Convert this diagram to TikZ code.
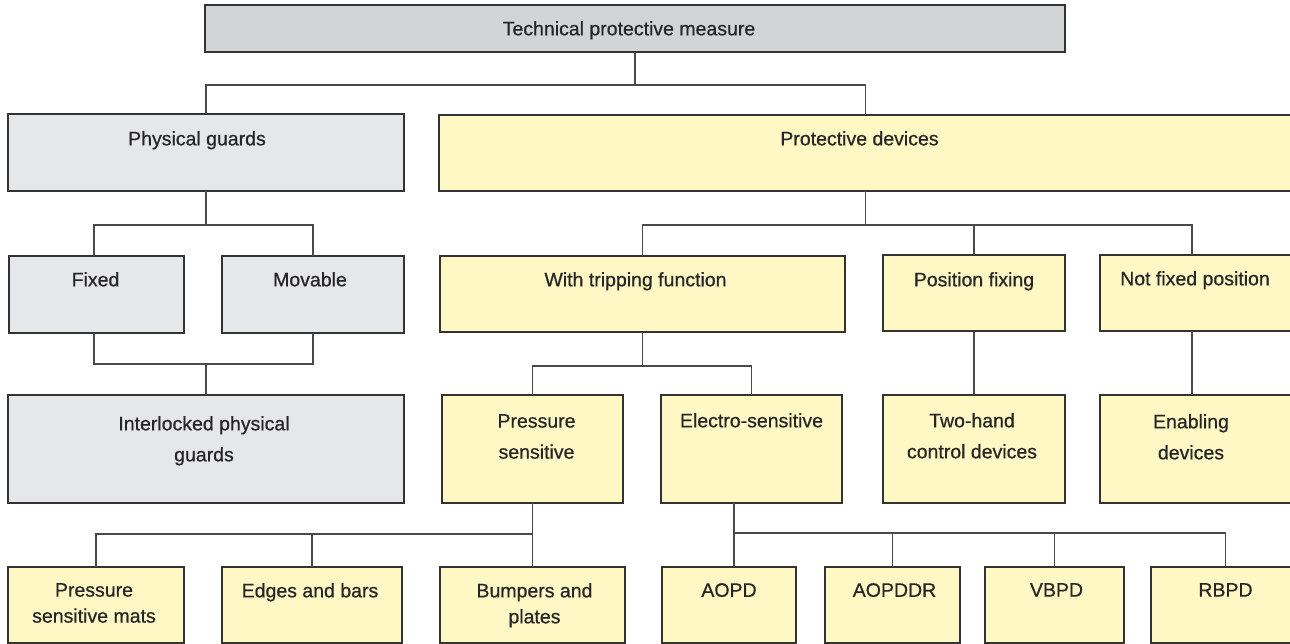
\documentclass[tikz,border=0pt]{standalone}
\usepackage{fontspec}
\setmainfont{Liberation Sans}
\newfontfamily\medf{Liberation Sans}[FakeBold=0.6]
\definecolor{bordc}{HTML}{333333}
\definecolor{linec}{HTML}{4A4A4A}
\definecolor{gdark}{HTML}{D3D4D6}
\definecolor{glight}{HTML}{E6E7E8}
\definecolor{ylw}{HTML}{FFF8C4}
\definecolor{txtc}{HTML}{262626}
\begin{document}
\begin{tikzpicture}[x=1pt,y=-1pt,
  box/.style={draw=bordc, line width=2.2pt, inner sep=0pt, outer sep=0pt, anchor=north west},
  gbox/.style={box, fill=glight},
  dbox/.style={box, fill=gdark},
  ybox/.style={box, fill=ylw},
  lbl/.style={anchor=north, inner sep=0pt, align=center, text=txtc, font=\medf\fontsize{19.5}{31}\selectfont},
  lblb/.style={lbl, font=\medf\fontsize{19.5}{26}\selectfont},
  conn/.style={draw=linec, line width=1.3pt}]
\useasboundingbox (0,0) rectangle (1290,644);
\clip (0,0) rectangle (1290,644);
% boxes
\node[dbox, minimum width=860pt, minimum height=47pt,
  label={[lbl,yshift=-16pt,xshift=-6pt]north:Technical protective measure}] (top) at (205,5) {};
\node[gbox, minimum width=396pt, minimum height=77pt,
  label={[lbl,yshift=-17pt,xshift=-9pt]north:Physical guards}] (phys) at (8,114) {};
\node[ybox, minimum width=853pt, minimum height=76pt,
  label={[lbl,yshift=-16pt,xshift=-6pt]north:Protective devices}] (prot) at (439,115) {};
\node[gbox, minimum width=175pt, minimum height=77pt,
  label={[lbl,yshift=-16pt,xshift=-1pt]north:Fixed}] (fixed) at (9,256) {};
\node[gbox, minimum width=182pt, minimum height=77pt,
  label={[lbl,yshift=-16pt,xshift=-3pt]north:Movable}] (movable) at (222,256) {};
\node[ybox, minimum width=405pt, minimum height=76pt,
  label={[lbl,yshift=-16pt,xshift=-7pt]north:With tripping function}] (trip) at (440,256) {};
\node[ybox, minimum width=182pt, minimum height=76pt,
  label={[lbl,yshift=-17pt]north:Position fixing}] (posfix) at (883,255) {};
\node[ybox, minimum width=192pt, minimum height=76pt,
  label={[lbl,yshift=-16pt,xshift=-1pt]north:Not fixed position}] (notfix) at (1100,255) {};
\node[gbox, minimum width=396pt, minimum height=108pt,
  label={[lbl,yshift=-21pt,xshift=-2pt]north:Interlocked physical\\guards}] (interl) at (8,395) {};
\node[ybox, minimum width=181pt, minimum height=108pt,
  label={[lbl,yshift=-19pt,xshift=4pt]north:Pressure\\sensitive}] (press) at (442,395) {};
\node[ybox, minimum width=181pt, minimum height=108pt,
  label={[lbl,yshift=-18pt]north:Electro-sensitive}] (electro) at (661,395) {};
\node[ybox, minimum width=182pt, minimum height=108pt,
  label={[lbl,yshift=-18pt,xshift=-2pt]north:Two-hand\\control devices}] (twohand) at (883,395) {};
\node[ybox, minimum width=192pt, minimum height=108pt,
  label={[lbl,yshift=-19pt,xshift=-5pt]north:Enabling\\devices}] (enabling) at (1100,395) {};
\node[ybox, minimum width=176pt, minimum height=76pt,
  label={[lblb,yshift=-16pt,xshift=-2pt]north:Pressure\\sensitive mats}] (mats) at (8,567) {};
\node[ybox, minimum width=180pt, minimum height=76pt,
  label={[lblb,yshift=-16pt,xshift=-2pt]north:Edges and bars}] (edges) at (222,567) {};
\node[ybox, minimum width=185pt, minimum height=76pt,
  label={[lblb,yshift=-16pt,xshift=2pt]north:Bumpers and\\plates}] (bumpers) at (440,567) {};
\node[ybox, minimum width=134pt, minimum height=76pt,
  label={[lblb,yshift=-16pt]north:AOPD}] (aopd) at (662,567) {};
\node[ybox, minimum width=135pt, minimum height=76pt,
  label={[lblb,yshift=-16pt,xshift=2pt]north:AOPDDR}] (aopddr) at (825,567) {};
\node[ybox, minimum width=139pt, minimum height=76pt,
  label={[lblb,yshift=-16pt,xshift=2pt]north:VBPD}] (vbpd) at (985,567) {};
\node[ybox, minimum width=149pt, minimum height=76pt,
  label={[lblb,yshift=-16pt]north:RBPD}] (rbpd) at (1151,567) {};
% helper coordinates
\coordinate (h1) at (0,85);
\coordinate (h2) at (0,225);
\coordinate (h3) at (0,364);
\coordinate (h4) at (0,366);
\coordinate (h5) at (0,534);
\coordinate (h6) at (0,533);
\coordinate (fx) at (94,0);
\coordinate (nf) at (1192,0);
\coordinate (ex) at (734,0);
% connectors
\draw[conn] (top.south) -- (top.south |- h1);
\draw[conn] (phys.north) -- (phys.north |- h1) -- (prot.north |- h1) -- (prot.north);
\draw[conn] (phys.south) -- (phys.south |- h2);
\draw[conn] (fixed.north -| fx) -- (fx |- h2) -- (movable.north |- h2) -- (movable.north);
\draw[conn] (prot.south) -- (prot.south |- h2);
\draw[conn] (trip.north) -- (trip.north |- h2) -- (nf |- h2) -- (notfix.north -| nf);
\draw[conn] (posfix.north) -- (posfix.north |- h2);
\draw[conn] (fixed.south -| fx) -- (fx |- h3) -- (movable.south |- h3) -- (movable.south);
\draw[conn] (interl.north) -- (interl.north |- h3);
\draw[conn] (trip.south) -- (trip.south |- h4);
\draw[conn] (press.north) -- (press.north |- h4) -- (electro.north |- h4) -- (electro.north);
\draw[conn] (posfix.south) -- (twohand.north);
\draw[conn] (notfix.south -| nf) -- (enabling.north -| nf);
\draw[conn] (press.south) -- (bumpers.north);
\draw[conn] (mats.north) -- (mats.north |- h5) -- (press.south |- h5);
\draw[conn] (edges.north) -- (edges.north |- h5);
\draw[conn] (electro.south -| ex) -- (aopd.north -| ex);
\draw[conn] (ex |- h6) -- (rbpd.north |- h6) -- (rbpd.north);
\draw[conn] (aopddr.north) -- (aopddr.north |- h6);
\draw[conn] (vbpd.north) -- (vbpd.north |- h6);
\end{tikzpicture}
\end{document}
